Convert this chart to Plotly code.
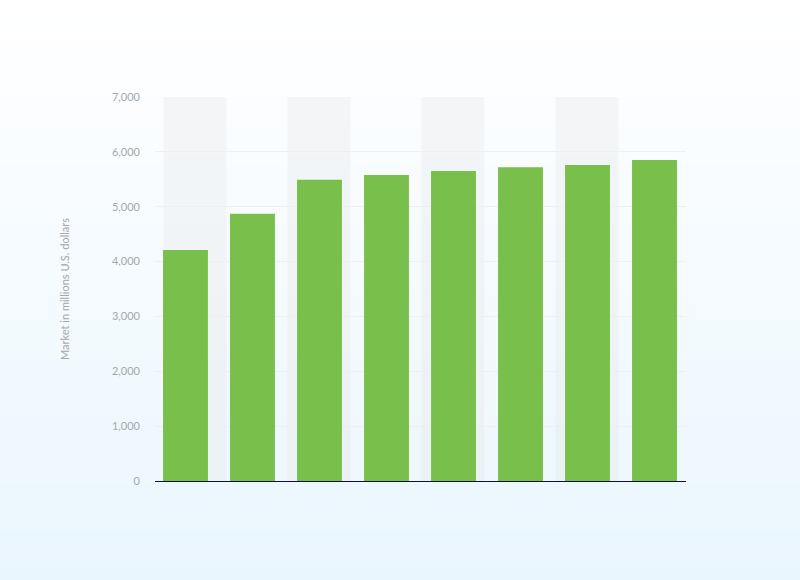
import plotly.graph_objects as go

# Bar values (millions U.S. dollars), categories have no visible labels
positions = [0, 1, 2, 3, 4, 5, 6, 7]
market = [4210, 4870, 5490, 5580, 5650, 5720, 5760, 5850]

y_ticks = [0, 1000, 2000, 3000, 4000, 5000, 6000, 7000]
y_tick_labels = ["0", "1,000", "2,000", "3,000", "4,000", "5,000", "6,000", "7,000"]

# alternating background columns
band_positions = [0, 2, 4, 6]

fig = go.Figure()

fig.add_trace(go.Bar(
    x=positions,
    y=market,
    width=0.67,
    marker=dict(color="#79bf4b", line=dict(width=0)),
    hovertemplate="%{y:,}<extra></extra>",
))

shapes = []

# page background gradient (white -> light blue) made from thin stripes
n = 60
top = (255, 255, 255)
bottom = (234, 246, 254)
for i in range(n):
    t = i / (n - 1)
    c = tuple(round(top[k] + (bottom[k] - top[k]) * t) for k in range(3))
    y_px0 = 580 * i / n
    y_px1 = 580 * (i + 1) / n + 1
    shapes.append(dict(
        type="rect", xref="paper", yref="paper", layer="below",
        x0=-0.5, x1=1.5,
        y0=(481 - y_px1) / 384, y1=(481 - y_px0) / 384,
        fillcolor="rgb(%d,%d,%d)" % c, line=dict(width=0),
    ))

for i, p in enumerate(band_positions):
    shift = 0.15 if i == 0 else 0.0
    shapes.append(dict(
        type="rect", xref="x", yref="y", layer="below",
        x0=p - 0.48 + shift, x1=p + 0.46 + shift, y0=0, y1=7000,
        fillcolor="rgba(226,226,228,0.28)", line=dict(width=0),
    ))

fig.update_layout(
    width=800,
    height=580,
    margin=dict(l=155, r=114, t=97, b=99),
    paper_bgcolor="rgba(0,0,0,0)",
    plot_bgcolor="rgba(0,0,0,0)",
    font=dict(family="Lato, 'Open Sans', sans-serif", size=11, color="#9aa0a6"),
    showlegend=False,
    shapes=shapes,
    xaxis=dict(
        range=[-0.455, 7.47],
        showticklabels=False,
        showgrid=False,
        zeroline=False,
        showline=True,
        linecolor="#0e1140",
        linewidth=1.2,
        ticks="",
        fixedrange=True,
    ),
    yaxis=dict(
        range=[0, 7000],
        tickvals=y_ticks,
        ticktext=y_tick_labels,
        showgrid=True,
        gridcolor="#efefef",
        gridwidth=1,
        zeroline=False,
        showline=False,
        ticks="",
        ticklabelstandoff=14,
        tickfont=dict(size=11, color="#a3a8ad"),
        title=dict(
            text="Market in millions U.S. dollars",
            font=dict(size=11, color="#a3a8ad"),
            standoff=40,
        ),
        fixedrange=True,
    ),
)

# drop the default 8px page margin so the figure fills the window
fig.write_html(
    "out.html",
    config={"displayModeBar": False},
    post_script="document.body.style.margin='0';",
)
